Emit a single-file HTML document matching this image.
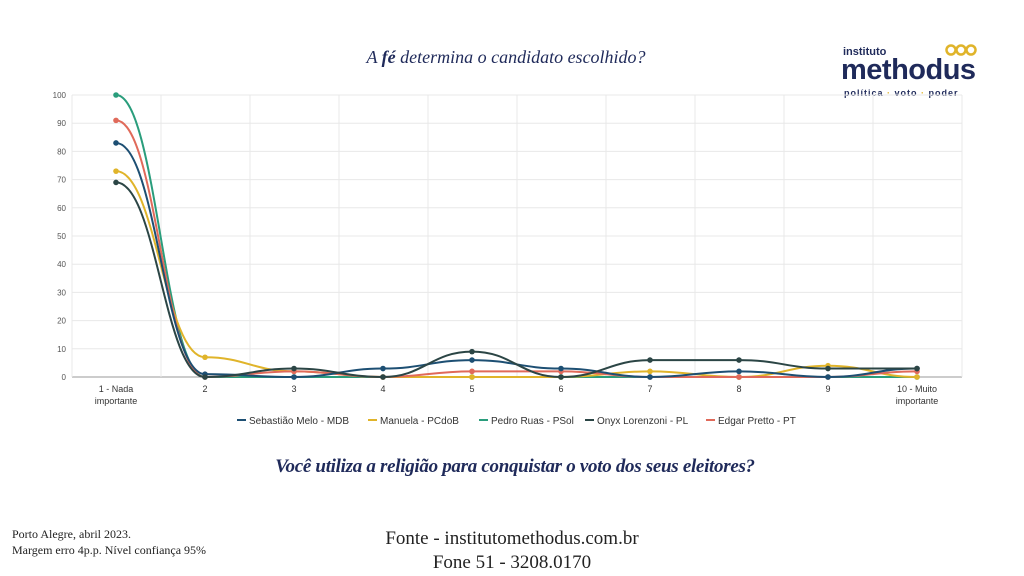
<!DOCTYPE html>
<html><head><meta charset="utf-8"><style>
body{margin:0;width:1024px;height:576px;background:#fff;overflow:hidden;position:relative;font-family:"Liberation Sans",sans-serif}
.s{font-family:"Liberation Serif",serif;position:absolute;color:#1f2a5a}
</style></head><body>
<div class="s" style="left:0;width:1012px;top:47px;text-align:center;font-size:18px;font-style:italic">A <b>fé</b> determina o candidato escolhido?</div>
<div style="position:absolute;left:843px;top:46px;font-size:11px;color:#1f2a5a;font-weight:bold">instituto</div>
<div style="position:absolute;left:841px;top:54px;font-size:29px;line-height:32px;color:#1f2a5a;font-weight:bold;letter-spacing:-0.5px">methodus</div>
<div style="position:absolute;left:844px;top:88px;font-size:9px;color:#1f2a5a;font-weight:bold;letter-spacing:1px">política <span style="color:#e0b42a">·</span> voto <span style="color:#e0b42a">·</span> poder</div>
<svg style="position:absolute;left:944px;top:43px" width="36" height="14"><g fill="none" stroke="#e0b42a" stroke-width="2.5"><circle cx="7" cy="7" r="4.5"/><circle cx="17" cy="7" r="4.5"/><circle cx="27" cy="7" r="4.5"/></g></svg>
<svg id="c" style="position:absolute;left:0;top:0" width="1024" height="440"></svg>
<div class="s" style="left:0;width:1030px;top:456px;text-align:center;font-size:19px;font-style:italic;font-weight:bold;letter-spacing:-0.3px">Você utiliza a religião para conquistar o voto dos seus eleitores?</div>
<div class="s" style="left:12px;top:526px;font-size:12px;line-height:16px;color:#222">Porto Alegre, abril 2023.<br>Margem erro 4p.p. Nível confiança 95%</div>
<div class="s" style="left:312px;width:400px;top:527px;text-align:center;font-size:19px;line-height:24px;color:#222">Fonte - institutomethodus.com.br<br>Fone 51 - 3208.0170</div>
<script>
var svg=document.getElementById('c'),h='';
var X0=72,X1=962,Y0=377,k=2.82;
for(var i=0;i<=10;i++){var y=Y0-i*10*k;h+='<line x1="'+X0+'" x2="'+X1+'" y1="'+y+'" y2="'+y+'" stroke="'+(i?'#e8e8e8':'#999')+'"/>';h+='<text x="66" y="'+(y+3)+'" font-size="8" fill="#555" text-anchor="end">'+i*10+'</text>';}
for(var i=0;i<=10;i++){var x=X0+i*89;h+='<line x1="'+x+'" x2="'+x+'" y1="95" y2="377" stroke="#e8e8e8"/>';}
var labs=['1 - Nada','2','3','4','5','6','7','8','9','10 - Muito'];
for(var i=0;i<10;i++){var x=116+i*89;h+='<text x="'+x+'" y="392" font-size="9" fill="#333" text-anchor="middle">'+labs[i]+'</text>';}
h+='<text x="116" y="404" font-size="9" fill="#333" text-anchor="middle">importante</text><text x="917" y="404" font-size="9" fill="#333" text-anchor="middle">importante</text>';
var S=[['#2a9d7c',[100,0,0,0,0,0,0,0,0,0]],['#e0b42a',[73,7,2,0,0,0,2,0,4,0]],['#e06a5a',[91,0,2,0,2,2,0,0,0,2]],['#1d4f73',[83,1,0,3,6,3,0,2,0,3]],['#2b4545',[69,0,3,0,9,0,6,6,3,3]]];
S.forEach(function(s){var p=s[1].map(function(v,i){return[116+i*89,Y0-v*k]});var d='M'+p[0];
for(var i=0;i<9;i++){var a=p[i],b=p[i+1],dx=(b[0]-a[0])/2.2;d+='C'+(a[0]+dx)+','+a[1]+' '+(b[0]-dx)+','+b[1]+' '+b[0]+','+b[1];}
h+='<path d="'+d+'" fill="none" stroke="'+s[0]+'" stroke-width="2"/>';p.forEach(function(q){h+='<circle cx="'+q[0]+'" cy="'+q[1]+'" r="2.8" fill="'+s[0]+'"/>'});});
var L=[['#1d4f73','Sebastião Melo - MDB',237],['#e0b42a','Manuela - PCdoB',368],['#2a9d7c','Pedro Ruas - PSol',479],['#2b4545','Onyx Lorenzoni - PL',585],['#e06a5a','Edgar Pretto - PT',706]];
L.forEach(function(l){h+='<line x1="'+l[2]+'" x2="'+(l[2]+9)+'" y1="420" y2="420" stroke="'+l[0]+'" stroke-width="2"/><text x="'+(l[2]+12)+'" y="424" font-size="10" fill="#333">'+l[1]+'</text>'});
svg.innerHTML=h;
</script>
</body></html>
